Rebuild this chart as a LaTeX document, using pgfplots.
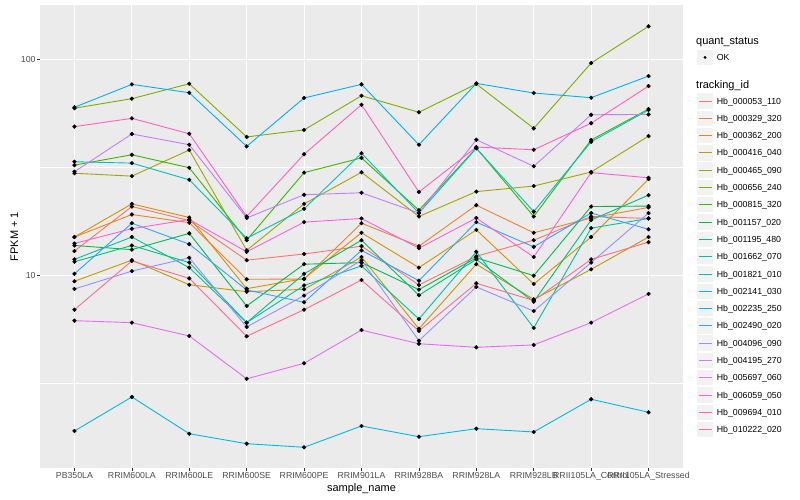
\documentclass[border=0pt]{standalone}
\usepackage{fontspec}
\setmainfont{Liberation Sans}
\usepackage{pgfplots}
\pgfplotsset{compat=1.18}
\usepackage{pgfplotstable}

\definecolor{c1}{HTML}{F8766D}
\definecolor{c2}{HTML}{EA8331}
\definecolor{c3}{HTML}{D89000}
\definecolor{c4}{HTML}{C09B00}
\definecolor{c5}{HTML}{A3A500}
\definecolor{c6}{HTML}{7CAE00}
\definecolor{c7}{HTML}{39B600}
\definecolor{c8}{HTML}{00BB4E}
\definecolor{c9}{HTML}{00BF7D}
\definecolor{c10}{HTML}{00C1A3}
\definecolor{c11}{HTML}{00BFC4}
\definecolor{c12}{HTML}{00BAE0}
\definecolor{c13}{HTML}{00B0F6}
\definecolor{c14}{HTML}{35A2FF}
\definecolor{c15}{HTML}{9590FF}
\definecolor{c16}{HTML}{C77CFF}
\definecolor{c17}{HTML}{E76BF3}
\definecolor{c18}{HTML}{FA62DB}
\definecolor{c19}{HTML}{FF62BC}
\definecolor{c20}{HTML}{FF6C91}
\definecolor{panel}{HTML}{EBEBEB}
\definecolor{keybg}{HTML}{F2F2F2}
\definecolor{gray30}{HTML}{4D4D4D}
\definecolor{gray20}{HTML}{333333}

% FPKM + 1 per sample (rows) and tracking_id (columns s1..s20)
\pgfplotstableread{
x  s1   s2   s3   s4   s5   s6    s7   s8   s9   s10  s11  s12   s13  s14  s15  s16  s17  s18  s19  s20
1  13.0 15.1 15.1 9.42 29.8 59.6  32.5 13.8 11.6 11.9 33.7 1.910 60.2 10.2 8.68 30.3 6.19 14.1 49.0 6.96
2  20.9 19.2 21.5 11.8 28.9 66.0  36.3 13.2 13.8 15.1 33.2 2.744 76.9 17.5 10.5 45.3 6.06 16.5 53.5 11.7
3  18.0 17.6 18.6 9.08 38.2 77.4  31.6 15.7 11.5 10.9 27.8 1.855 70.3 14.0 12.1 40.4 5.26 18.2 45.4 9.72
4  11.8 9.62 8.71 8.43 13.1 43.9  14.6 7.24 6.06 6.06 14.9 1.668 39.7 8.59 5.79 18.5 3.33 12.9 18.8 5.24
5  12.6 9.65 9.69 8.65 21.5 47.3  30.0 11.3 10.2 9.01 20.4 1.605 66.5 7.53 8.09 23.7 3.93 17.7 36.5 6.96
6  13.7 17.5 15.8 12.2 30.1 68.1  35.1 11.5 14.6 11.1 36.9 2.014 76.9 13.1 11.8 24.2 5.60 18.4 61.9 9.55
7  9.06 13.7 10.9 5.68 18.8 57.1  20.1 8.62 8.12 6.30 19.5 1.797 40.4 9.48 5.00 19.5 4.84 13.4 24.4 5.55
8  12.3 21.2 16.3 11.3 24.5 77.2  39.0 12.1 11.9 12.9 38.9 1.957 77.7 17.7 8.87 42.6 4.66 18.5 39.4 9.22
9  14.6 15.8 9.15 7.77 26.0 48.1  18.8 10.0 7.58 5.73 19.8 1.890 70.1 13.6 6.86 32.1 4.78 12.2 38.3 7.68
10 18.8 18.5 15.1 10.7 30.2 96.5  42.5 20.9 18.1 16.6 41.7 2.678 66.7 19.5 11.5 55.6 6.06 30.0 50.8 11.9
11 18.4 20.7 28.0 15.1 44.3 142.8 59.1 21.0 23.6 18.4 58.5 2.331 84.0 16.4 19.5 55.8 8.23 28.4 75.5 14.3
}\fpkm

% one legend row: index, colour, id
\newcommand\legitem[3]{%
  \pgfmathsetmacro\yy{399-17.3*(#1-1)}%
  \fill[keybg] (697.3bp,\yy bp-7.7bp) rectangle (712.7bp,\yy bp+7.7bp);
  \draw[#2, line width=0.9bp] (698.5bp,\yy bp) -- (711.5bp,\yy bp);
  \node[anchor=base west, inner sep=0, font=\fontsize{8.8}{10}\selectfont] at (716.7bp,\yy bp-3.1bp) {Hb\_#3};
}

\begin{document}
\begin{tikzpicture}
\useasboundingbox (0,0) rectangle (800bp,500bp);
\begin{axis}[
  at={(40bp,32bp)}, anchor=south west,
  width=643bp, height=463bp, scale only axis,
  ymode=log, ymin=1.287, ymax=179.2,
  xmin=0.4, xmax=11.6,
  xtick={1,...,11},
  xticklabels={PB350LA,RRIM600LA,RRIM600LE,RRIM600SE,RRIM600PE,RRIM901LA,RRIM928BA,RRIM928LA,RRIM928LB,RRII105LA\_Control,RRII105LA\_Stressed},
  ytick={10,100}, yticklabels={10,100},
  minor ytick={3.1623,31.623},
  grid=both,
  major grid style={white, line width=1.07bp},
  minor grid style={white, line width=0.53bp},
  axis background/.style={fill=panel},
  axis line style={draw=none},
  xtick pos=bottom, ytick pos=left,
  tick align=outside,
  major tick length=2.75bp, minor tick length=0pt,
  tick style={gray20, line width=0.53bp},
  ticklabel style={font=\fontsize{8.8}{10}\selectfont, text=gray30, inner sep=1.5bp},
  xlabel={sample\_name}, ylabel={FPKM + 1},
  label style={font=\fontsize{11}{13}\selectfont},
  xlabel style={inner sep=1bp},
  ylabel style={inner sep=1bp},
]
\pgfplotsinvokeforeach{1,...,20}{
  \addplot[color=c#1, line width=0.9bp] table[x=x, y=s#1]{\fpkm};
}
\pgfplotsinvokeforeach{1,...,20}{
  \addplot[only marks, mark=*, mark size=1.9bp, black, forget plot] table[x=x, y=s#1]{\fpkm};
}
\end{axis}

% legend
\node[anchor=base west, inner sep=0, font=\fontsize{11}{13}\selectfont] at (696bp,455.5bp) {quant\_status};
\fill[keybg] (697.3bp,434.9bp) rectangle (712.7bp,450.3bp);
\fill[black] (705bp,442.6bp) circle (1.6bp);
\node[anchor=base west, inner sep=0, font=\fontsize{8.8}{10}\selectfont] at (716.7bp,439.5bp) {OK};
\node[anchor=base west, inner sep=0, font=\fontsize{11}{13}\selectfont] at (696bp,411.9bp) {tracking\_id};
\legitem{1}{c1}{000053\_110}
\legitem{2}{c2}{000329\_320}
\legitem{3}{c3}{000362\_200}
\legitem{4}{c4}{000416\_040}
\legitem{5}{c5}{000465\_090}
\legitem{6}{c6}{000656\_240}
\legitem{7}{c7}{000815\_320}
\legitem{8}{c8}{001157\_020}
\legitem{9}{c9}{001195\_480}
\legitem{10}{c10}{001662\_070}
\legitem{11}{c11}{001821\_010}
\legitem{12}{c12}{002141\_030}
\legitem{13}{c13}{002235\_250}
\legitem{14}{c14}{002490\_020}
\legitem{15}{c15}{004096\_090}
\legitem{16}{c16}{004195\_270}
\legitem{17}{c17}{005697\_060}
\legitem{18}{c18}{006059\_050}
\legitem{19}{c19}{009694\_010}
\legitem{20}{c20}{010222\_020}
\end{tikzpicture}
\end{document}
